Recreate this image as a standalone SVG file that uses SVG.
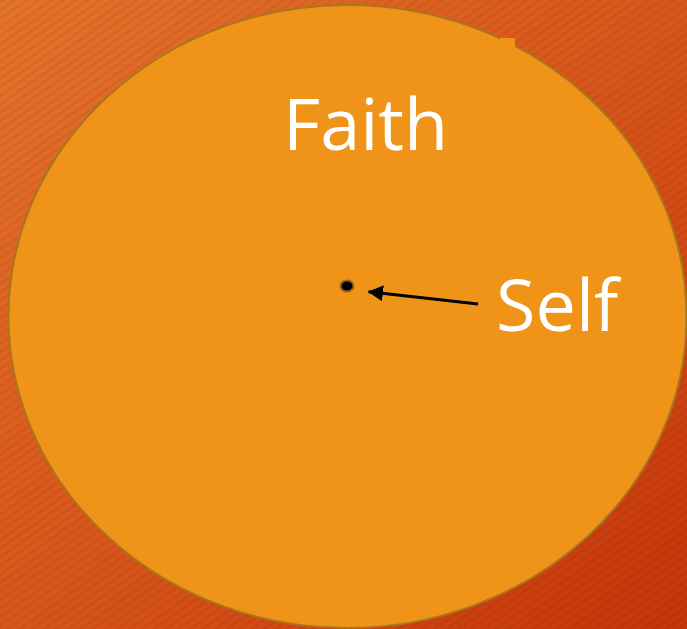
<svg xmlns="http://www.w3.org/2000/svg" width="687" height="629" viewBox="0 0 687 629">
  <defs>
    <linearGradient id="bg" x1="0" y1="0" x2="1" y2="1">
      <stop offset="0" stop-color="#e5732a"/>
      <stop offset="0.5" stop-color="#d9561a"/>
      <stop offset="1" stop-color="#c5350a"/>
    </linearGradient>
    <pattern id="stripes" width="7" height="7" patternUnits="userSpaceOnUse" patternTransform="rotate(-35)">
      <rect width="7" height="3" fill="#000" fill-opacity="0.05"/>
    </pattern>
    <marker id="arrow" markerWidth="16" markerHeight="16" refX="14.5" refY="8" orient="auto" markerUnits="userSpaceOnUse" viewBox="0 0 16 16">
      <path d="M0,0 L15,8 L0,16 z" fill="#000"/>
    </marker>
    <style>
      .lbl { font-family: "Open Sans", "Liberation Sans", sans-serif; fill: #ffffff; font-size: 72px; }
    </style>
  </defs>
  <rect width="687" height="629" fill="url(#bg)"/>
  <rect width="687" height="629" fill="url(#stripes)"/>
  <g id="faith">
    <ellipse cx="347.5" cy="316.5" rx="339" ry="311.5" fill="#ef9418" stroke="#a8761c" stroke-width="2"/>
    <rect x="500" y="38" width="15" height="10" fill="#ef9418"/>
    <text class="lbl" x="283" y="150">Faith</text>
  </g>
  <g id="self">
    <ellipse cx="347" cy="286" rx="6.5" ry="5.5" fill="#000" stroke="#9a6418" stroke-width="2"/>
    <text class="lbl" x="496" y="331">Self</text>
  </g>
  <g id="connectors">
    <line x1="478" y1="304" x2="368.5" y2="291.7" stroke="#000" stroke-width="3" marker-end="url(#arrow)"/>
  </g>
</svg>
